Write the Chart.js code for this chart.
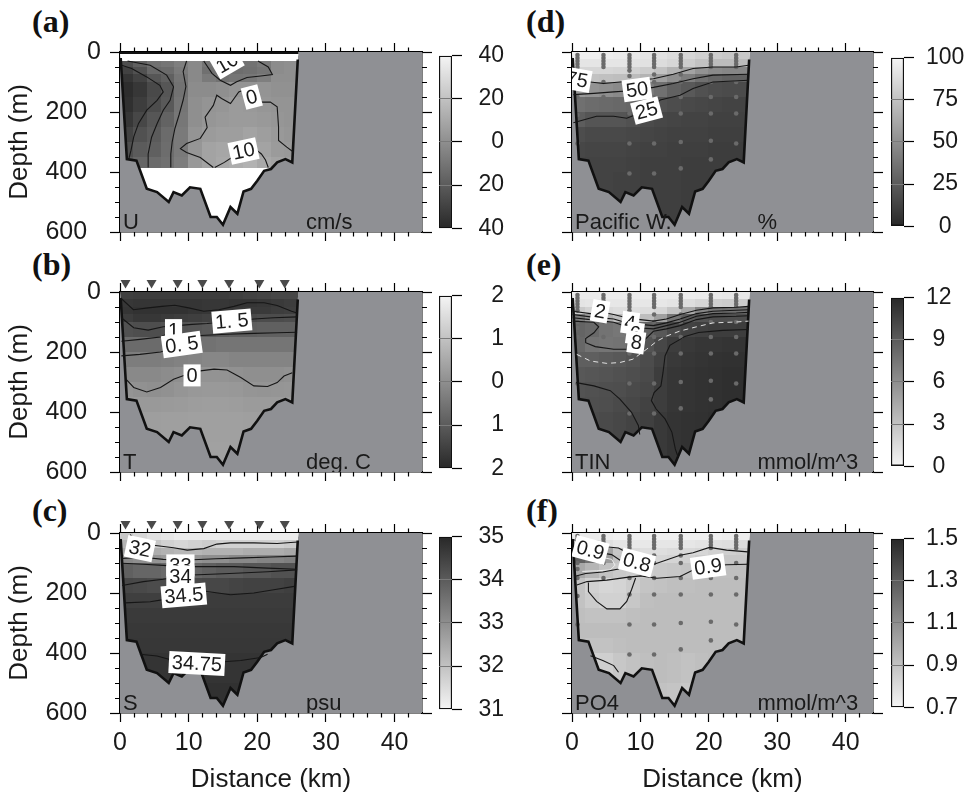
<!DOCTYPE html>
<html>
<head>
<meta charset="utf-8">
<script src="https://cdn.jsdelivr.net/npm/chart.js@4.4.1/dist/chart.umd.min.js"></script>
<style>
  body { margin: 0; background: #fff; width: 972px; height: 795px; position: relative; overflow: hidden; }
  canvas { position: absolute; }
  .tag { position: absolute; font: bold 32px "Liberation Serif", "Times New Roman", serif; line-height: 1; color: #111; }
</style>
</head>
<body>
<div class="tag" style="left:32px;top:5px">(a)</div>
<div class="tag" style="left:32px;top:248px">(b)</div>
<div class="tag" style="left:32px;top:494px">(c)</div>
<div class="tag" style="left:526px;top:5px">(d)</div>
<div class="tag" style="left:526px;top:248px">(e)</div>
<div class="tag" style="left:526px;top:494px">(f)</div>

<script>
// axes
const distTicks = [0, 10, 20, 30, 40];
const depthTicks = [0, 200, 400, 600];
const depthTickLabels = ['0', '200  ', '400  ', '600  '];

// grid cells: 2 km columns, depth rows
const colEdges = [0, 2, 4, 6, 8, 10, 12, 14, 16, 18, 20, 22, 24, 26];
const rowEdges = [0, 25, 50, 75, 100, 150, 200, 250, 300, 350, 400, 500, 600];
const uRowEdges = [30, 50, 75, 100, 150, 200, 250, 300, 350, 385];

// section outline (walls + bottom)
const bathyKm = [0.1, 1.0, 2.4, 3.9, 5.4, 7.1, 7.8, 9.0, 10.2, 11.7, 13.2, 14.1, 15.0, 16.1, 17.1, 18.0, 19.1, 20.0, 21.0, 22.0, 22.9, 24.1, 25.1, 25.9];
const bathyDepth = [20, 357, 362, 456, 467, 500, 467, 478, 451, 456, 550, 550, 576, 517, 539, 465, 456, 429, 396, 390, 368, 357, 368, 25];

// stations
const stationKm = [0.8, 4.6, 8.4, 12.0, 15.9, 20.3, 24.0];
const stationDepths = [
  [10, 20, 30, 40, 50, 62, 100, 120, 150, 210, 305],
  [10, 20, 30, 40, 50, 100, 150],
  [10, 20, 30, 40, 50, 62, 80, 100, 150, 205, 305, 405],
  [10, 20, 30, 40, 50, 75, 100, 150, 205, 305, 405],
  [10, 20, 30, 40, 50, 75, 100, 150, 205, 300, 388],
  [10, 20, 30, 40, 50, 100, 150, 205, 296, 358],
  [10, 20, 30, 40, 50, 100, 150, 205, 305]
];

// (a) U, cm/s
const uGrid = [
  [-25, -18, -12, -10, -6, -2, -10, -13, -12, -11, -8, -1, 0],
  [-30, -24, -15, -14, -8, -2, -12, -14, -13, -12, -10, -1, 0],
  [-35, -30, -22, -18, -10, -2, -8, -11, -10, -9, -6, 0, 0],
  [-38, -34, -27, -22, -11, -1, -1, 0, 2, 2, 2, 1, 1],
  [-37, -32, -26, -21, -10, 0, 2, 3, 5, 4, 3, 2, 2],
  [-34, -28, -22, -17, -9, 0, 3, 4, 5, 5, 4, 3, 2],
  [-30, -24, -20, -14, -8, 2, 5, 6, 6, 8, 6, 4, 3],
  [-25, -20, -18, -13, -8, 3, 8, 9, 10, 11, 8, 5, 4],
  [-20, -16, -14, -12, -7, 4, 8, 10, 12, 14, 10, 8, 6]
];
const uC1 = [[0.24, 44], [1.7, 55], [3.9, 83], [5.8, 111], [6.3, 133], [5.4, 161], [3.9, 194], [2.7, 238], [2.0, 283], [1.6, 328], [1.3, 355]];
const uC2 = [[1.1, 30], [4.4, 44], [6.8, 77], [7.8, 116], [7.3, 161], [6.3, 194], [5.4, 239], [4.6, 284], [4.1, 340], [4.1, 385]];
const uC3 = [[9.7, 30], [9.2, 65], [9.6, 115], [9.2, 160], [8.6, 210], [8.0, 255], [7.6, 300], [7.4, 340], [7.4, 385]];
const uC4 = [[12.2, 30], [13.4, 71], [14.6, 94], [16.1, 111], [17.0, 99], [18.5, 85], [20.5, 80], [22.2, 75], [21.6, 50], [20.1, 30]];
const uC5 = [[13.6, 385], [11.7, 352], [9.7, 335], [8.8, 322], [9.7, 305], [11.7, 288], [12.7, 252], [12.4, 217], [13.6, 178], [14.1, 144], [14.8, 155], [16.1, 172], [17.3, 133], [18.0, 127], [19.2, 150], [20.4, 167], [21.9, 167], [22.9, 183], [23.1, 250], [23.1, 295], [24.3, 317], [25.3, 334]];
const uC6 = [[13.8, 385], [15.2, 368], [16.4, 350], [18, 330], [19.6, 322], [20.6, 340], [21.2, 360], [21.6, 385]];
const uLabels = [[19.2, 150, '0', -15], [18, 330, '10', -12]];
const uHidden = [[15.6, 36, '10', -30]];

// (b) T, deg C
const tGrid = [
  [-1.55, -1.6, -1.6, -1.6, -1.6, -1.6, -1.6, -1.6, -1.55, -1.5, -1.45, -1.4, -1.4],
  [-1.7, -1.75, -1.75, -1.75, -1.75, -1.75, -1.7, -1.7, -1.75, -1.75, -1.7, -1.65, -1.6],
  [-1.75, -1.8, -1.8, -1.8, -1.8, -1.75, -1.7, -1.7, -1.7, -1.65, -1.65, -1.6, -1.55],
  [-1.6, -1.7, -1.7, -1.65, -1.6, -1.55, -1.5, -1.45, -1.4, -1.35, -1.3, -1.3, -1.25],
  [-1.2, -1.25, -1.25, -1.2, -1.15, -1.1, -1.05, -1.0, -0.95, -0.95, -0.9, -0.9, -0.9],
  [-0.7, -0.7, -0.7, -0.65, -0.6, -0.55, -0.55, -0.5, -0.5, -0.5, -0.5, -0.5, -0.5],
  [-0.35, -0.35, -0.35, -0.3, -0.25, -0.2, -0.15, -0.15, -0.2, -0.2, -0.2, -0.2, -0.2],
  [-0.1, -0.1, -0.1, -0.05, 0.0, 0.05, 0.08, 0.08, 0.05, 0.0, 0.0, 0.0, 0.05],
  [0.1, 0.05, 0.0, 0.05, 0.12, 0.18, 0.2, 0.2, 0.18, 0.12, 0.1, 0.12, 0.15],
  [0.25, 0.2, 0.2, 0.22, 0.25, 0.28, 0.3, 0.3, 0.28, 0.25, 0.25, 0.25, 0.25],
  [0.3, 0.3, 0.3, 0.32, 0.33, 0.34, 0.35, 0.35, 0.34, 0.32, 0.3, 0.3, 0.3],
  [0.32, 0.32, 0.32, 0.33, 0.34, 0.35, 0.36, 0.36, 0.35, 0.33, 0.32, 0.32, 0.32]
];
const tC1 = [[0.1, 20], [1.95, 59], [4.1, 53], [6.1, 48], [8.0, 44], [10, 53], [12.2, 64], [14.4, 59], [16.6, 48], [18.5, 36], [21, 36], [22.9, 45], [25, 64], [25.8, 70]];
const tC2 = [[0.2, 86], [2, 119], [4.1, 127], [6.3, 116], [8.3, 112], [10.5, 108], [12.7, 105], [14.6, 101], [16.3, 97], [19.5, 90], [22.4, 86], [25.8, 83]];
const tC3 = [[0.2, 164], [2.9, 158], [5.9, 150], [7.8, 130], [9.5, 142], [11.7, 145], [15.6, 141], [19.5, 138], [22.9, 136], [25.8, 134]];
const tC4 = [[0.2, 213], [2.9, 208], [5.9, 200], [8.3, 185], [9.5, 175]];
const tC5 = [[0.9, 291], [2, 318], [3.9, 333], [5.9, 318], [7.8, 291], [9.8, 274], [11.7, 263], [13.7, 257], [15.6, 260], [17.6, 285], [19.5, 313], [21.5, 315], [22.9, 302], [23.9, 280], [25.1, 269]];
const tLabels = [[16.3, 97, '1. 5', -5], [7.8, 127, '1', 0], [9, 175, '0. 5', -8], [10.5, 278, '0', 0]];

// (c) S, psu
const sGrid = [
  [31.9, 31.6, 31.4, 31.3, 31.2, 31.2, 31.2, 31.2, 31.2, 31.2, 31.2, 31.2, 31.2],
  [32.3, 32.1, 31.9, 31.7, 31.6, 31.7, 31.8, 31.7, 31.7, 31.7, 31.7, 31.7, 31.8],
  [32.6, 32.5, 32.4, 32.3, 32.2, 32.2, 32.3, 32.3, 32.3, 32.4, 32.4, 32.4, 32.5],
  [33.1, 33.0, 32.9, 32.8, 32.8, 32.9, 33.0, 33.0, 33.1, 33.1, 33.2, 33.2, 33.3],
  [33.9, 33.8, 33.8, 33.7, 33.7, 33.8, 33.9, 34.0, 34.0, 34.1, 34.1, 34.2, 34.2],
  [34.4, 34.35, 34.3, 34.3, 34.3, 34.35, 34.4, 34.4, 34.45, 34.5, 34.5, 34.5, 34.55],
  [34.55, 34.55, 34.55, 34.55, 34.55, 34.55, 34.6, 34.6, 34.6, 34.6, 34.6, 34.6, 34.6],
  [34.65, 34.65, 34.65, 34.65, 34.65, 34.65, 34.65, 34.65, 34.65, 34.65, 34.65, 34.65, 34.65],
  [34.68, 34.68, 34.68, 34.68, 34.68, 34.68, 34.68, 34.68, 34.68, 34.68, 34.68, 34.68, 34.68],
  [34.7, 34.7, 34.7, 34.7, 34.7, 34.7, 34.7, 34.7, 34.7, 34.7, 34.7, 34.7, 34.7],
  [34.76, 34.76, 34.76, 34.76, 34.76, 34.76, 34.76, 34.76, 34.76, 34.76, 34.76, 34.76, 34.76],
  [34.83, 34.83, 34.83, 34.83, 34.83, 34.83, 34.83, 34.83, 34.83, 34.83, 34.83, 34.83, 34.83]
];
const sC1 = [[1.5, 5], [2.3, 35], [3.5, 48], [4.9, 41], [7.8, 49], [9.8, 57], [12.2, 52], [14.1, 37], [16.1, 33], [19.5, 33], [22.9, 35], [25.9, 30]];
const sC2 = [[0.3, 85], [3.4, 81], [6.3, 88], [9.8, 90], [14, 86], [18, 83], [22, 80], [25.8, 77]];
const sC3 = [[0.3, 101], [3.4, 104], [6.3, 108], [8.8, 112], [10.5, 112], [16.6, 112], [21.5, 117], [25.8, 121]];
const sC4 = [[0.3, 175], [3.4, 162], [6.3, 154], [8.8, 145], [10.5, 140], [16, 135], [21.5, 129], [25.8, 123]];
const sC5 = [[0.7, 233], [4.4, 229], [6.3, 222], [9.3, 208], [10.5, 190], [12.7, 195], [16.1, 206], [19.5, 200], [22.4, 189], [25.4, 178]];
const sC6 = [[2.9, 404], [5.4, 410], [7.8, 425], [11.2, 437], [14.6, 430], [17.6, 425], [20.5, 415], [21.5, 404]];
const sLabels = [[2.9, 52, '32', 12], [8.8, 108, '33', 0], [8.8, 145, '34', 0], [9.3, 208, '34.5', -5], [11.2, 435, '34.75', 3]];

// (d) Pacific water, %
const pGrid = [
  [97, 97, 96, 95, 94, 92, 90, 88, 85, 82, 80, 78, 78],
  [92, 92, 92, 92, 91, 90, 88, 85, 80, 75, 72, 72, 72],
  [85, 85, 85, 84, 83, 80, 75, 68, 60, 52, 48, 46, 46],
  [76, 75, 74, 73, 72, 68, 58, 50, 42, 35, 30, 28, 28],
  [55, 52, 50, 48, 45, 40, 35, 28, 24, 20, 18, 17, 17],
  [35, 33, 32, 31, 30, 24, 20, 18, 16, 15, 14, 13, 13],
  [26, 22, 22, 22, 20, 17, 15, 14, 13, 13, 12, 12, 12],
  [18, 16, 16, 16, 15, 14, 13, 12, 12, 12, 11, 11, 11],
  [15, 14, 14, 14, 13, 12, 12, 11, 11, 11, 10, 10, 10],
  [14, 13, 13, 13, 12, 11, 11, 11, 10, 10, 10, 10, 10],
  [13, 13, 13, 12, 12, 11, 11, 11, 10, 10, 10, 10, 10],
  [13, 13, 13, 12, 12, 11, 11, 11, 10, 10, 10, 10, 10]
];
const pC75 = [[1.6, 100], [2.7, 100], [4.6, 105], [7.0, 100], [11.9, 89], [14.8, 74], [17.7, 55], [20.6, 50], [24.0, 50], [25.8, 44]];
const pC50 = [[0.2, 142], [3.2, 138], [6.1, 133], [8.0, 130], [9.5, 125], [11.9, 118], [14.8, 105], [17.7, 89], [20.6, 77], [25.8, 74]];
const pC25 = [[0.2, 236], [3.6, 214], [6.1, 214], [8.0, 221], [10.9, 195], [12.9, 160], [15.8, 144], [17.7, 122], [20.6, 100], [25.8, 94]];
const pLabels = [[0.7, 92, '75', 10], [9.5, 125, '50', -8], [10.9, 195, '25', -15]];

// (e) TIN, mmol/m^3
const nGrid = [
  [0.6, 0.6, 0.5, 0.5, 0.5, 0.5, 0.5, 0.5, 0.5, 0.6, 0.7, 0.8, 0.8],
  [1.0, 0.9, 0.8, 0.8, 0.8, 0.8, 0.8, 1.0, 1.4, 1.8, 2.2, 2.4, 2.4],
  [2.5, 2.0, 1.6, 1.4, 1.3, 1.4, 1.8, 2.8, 4.5, 6.5, 7.5, 7.8, 7.8],
  [7.0, 5.5, 4.0, 3.2, 2.8, 3.2, 5.0, 7.5, 9.0, 9.5, 9.8, 9.8, 9.8],
  [8.5, 8.2, 7.6, 7.4, 7.4, 8.6, 9.2, 10.0, 10.4, 10.6, 10.8, 10.8, 10.8],
  [8.3, 7.6, 7.5, 7.6, 8.2, 9.5, 10.2, 10.8, 11.0, 11.2, 11.2, 11.3, 11.3],
  [8.8, 8.8, 9.0, 9.2, 9.5, 9.9, 10.5, 11.0, 11.2, 11.3, 11.4, 11.5, 11.5],
  [9.2, 9.3, 9.4, 9.6, 9.8, 10.0, 10.8, 11.2, 11.3, 11.4, 11.5, 11.6, 11.6],
  [9.5, 9.6, 9.7, 9.8, 10.0, 10.2, 10.8, 11.2, 11.3, 11.4, 11.5, 11.6, 11.6],
  [9.6, 9.7, 9.8, 10.0, 10.2, 10.5, 10.8, 11.2, 11.3, 11.4, 11.5, 11.6, 11.6],
  [9.8, 9.9, 10.0, 10.2, 10.4, 10.6, 11.0, 11.3, 11.4, 11.5, 11.6, 11.6, 11.6],
  [9.8, 9.9, 10.0, 10.2, 10.4, 10.6, 11.0, 11.3, 11.4, 11.5, 11.6, 11.6, 11.6]
];
const nC2 = [[0.1, 64], [2.7, 72], [4.1, 66], [6.1, 75], [8, 86], [10, 92], [11.9, 97], [13.8, 90], [15.8, 75], [18.2, 61], [20.6, 53], [24, 51], [25.8, 48]];
const nC4 = [[0.1, 75], [2.7, 83], [6.1, 90], [8, 103], [10, 108], [11.9, 112], [13.8, 103], [15.8, 90], [18.2, 72], [20.6, 64], [24, 61], [25.8, 59]];
const nC6 = [[0.1, 86], [2.7, 92], [6.1, 101], [8, 116], [10, 120], [11.9, 123], [13.8, 112], [15.8, 101], [18.2, 81], [20.6, 72], [24, 70], [25.8, 68]];
const nC8 = [[0.1, 97], [3.2, 101], [3.9, 116], [3.2, 136], [2.0, 155], [2.0, 169], [3.4, 182], [6.1, 191], [8.3, 191], [9.5, 180], [10.7, 158], [11.9, 131], [13.8, 123], [15.8, 112], [18.2, 92], [20.6, 83], [24, 81], [25.8, 79]];
const nC10 = [[25.8, 125], [22, 128], [18.5, 135], [16.5, 148], [15.8, 158], [14.3, 178], [13.6, 213], [13.3, 269], [13.0, 313], [12, 335], [11.6, 362], [12.3, 390], [13.6, 423], [14.6, 467], [15.1, 523], [15.5, 550]];
const nC9 = [[0.6, 302], [3.2, 313], [5.6, 329], [7.0, 357], [8.7, 401], [9.7, 445], [9.9, 475]];
const nDash = [[0.7, 208], [2.7, 230], [5.1, 238], [7.0, 235], [8.9, 224], [10.9, 191], [12.4, 164], [13.8, 147], [15.8, 130], [18.2, 116], [20.6, 103], [24, 100], [25.8, 97]];
const nLabels = [[4.1, 64, '2', 10], [8.5, 103, '4', 8], [9.2, 138, '6', 8], [9.4, 168, '8', 8]];

// (f) PO4, mmol/m^3
const phGrid = [
  [0.74, 0.74, 0.73, 0.72, 0.72, 0.72, 0.72, 0.72, 0.72, 0.72, 0.72, 0.73, 0.73],
  [0.85, 0.82, 0.78, 0.76, 0.75, 0.75, 0.76, 0.76, 0.76, 0.77, 0.78, 0.79, 0.80],
  [1.22, 1.18, 1.02, 0.88, 0.80, 0.79, 0.79, 0.80, 0.81, 0.82, 0.84, 0.85, 0.86],
  [1.28, 1.22, 1.05, 0.90, 0.84, 0.82, 0.82, 0.83, 0.84, 0.86, 0.87, 0.88, 0.88],
  [1.0, 0.95, 0.90, 0.87, 0.86, 0.86, 0.87, 0.88, 0.89, 0.90, 0.91, 0.91, 0.91],
  [0.9, 0.84, 0.82, 0.83, 0.86, 0.89, 0.90, 0.91, 0.91, 0.92, 0.92, 0.92, 0.92],
  [0.9, 0.86, 0.84, 0.84, 0.88, 0.91, 0.92, 0.92, 0.92, 0.92, 0.92, 0.92, 0.92],
  [0.91, 0.9, 0.9, 0.9, 0.91, 0.92, 0.92, 0.92, 0.92, 0.92, 0.92, 0.92, 0.92],
  [0.92, 0.92, 0.92, 0.92, 0.92, 0.92, 0.92, 0.92, 0.92, 0.92, 0.92, 0.92, 0.92],
  [0.91, 0.9, 0.9, 0.91, 0.92, 0.92, 0.92, 0.92, 0.92, 0.92, 0.92, 0.92, 0.92],
  [0.86, 0.84, 0.85, 0.88, 0.9, 0.91, 0.92, 0.91, 0.9, 0.91, 0.92, 0.92, 0.92],
  [0.86, 0.86, 0.87, 0.88, 0.9, 0.9, 0.9, 0.89, 0.88, 0.9, 0.92, 0.92, 0.92]
];
const fC1 = [[0.3, 22], [1.2, 35], [2.7, 55], [4.5, 45], [6.8, 50], [7.6, 60], [9.5, 98], [12.1, 103], [13.8, 90], [15.8, 74], [17.7, 66], [20.1, 48], [22.6, 57], [25.7, 63]];
const fC2 = [[0.7, 173], [2.2, 162], [5.1, 157], [8.0, 148], [10.0, 143], [12.4, 151], [15.8, 145], [17.7, 123], [19.9, 112], [22.6, 106], [25.7, 104]];
const fC3 = [[2.4, 165], [2.4, 195], [3.6, 228], [5.1, 253], [7.0, 253], [8.0, 228], [8.7, 189], [9.3, 150]];
const fC4 = [[0.3, 60], [3.2, 62], [5.8, 72], [7.3, 95], [6.8, 120], [4.5, 130], [2, 135], [0.3, 145]];
const fC5 = [[2.7, 409], [4.5, 425], [6.1, 442], [6.8, 464]];
const fWhite = [[0.7, 74], [3.6, 77], [5.8, 88], [6.3, 107], [5.6, 123], [3.6, 126], [1.5, 128]];
const fLabels = [[2.7, 57, '0.9', 15], [9.5, 98, '0.8', 15], [19.9, 112, '0.9', -8]];

const BG = '#8f9094';
const LO = 40, HI = 245;
const rowTops = [52, 292, 533];
const AREA_H = 180;

const panels = [
  { id: 'pa', col: 0, row: 0, name: 'U', unit: 'cm/s', min: -40, max: 40, darkHigh: false,
    grid: uGrid, edges: uRowEdges, lines: [uC1, uC2, uC3, uC4, uC5, uC6], whiteLines: [],
    labels: uLabels, hidden: uHidden, band: 30, topLine: true, marks: null,
    cbTicks: [-40, -20, 0, 20, 40], cbLabels: ['40', '20', '0', '20', '40'] },
  { id: 'pb', col: 0, row: 1, name: 'T', unit: 'deg. C', min: -2, max: 2, darkHigh: false,
    grid: tGrid, edges: rowEdges, lines: [tC1, tC2, tC3, tC4, tC5], whiteLines: [],
    labels: tLabels, marks: 'tri',
    cbTicks: [-2, -1, 0, 1, 2], cbLabels: ['2', '1', '0', '1', '2'] },
  { id: 'pc', col: 0, row: 2, name: 'S', unit: 'psu', min: 31, max: 35, darkHigh: true,
    grid: sGrid, edges: rowEdges, lines: [sC1, sC2, sC3, sC4, sC5, sC6], whiteLines: [],
    labels: sLabels, marks: 'tri',
    cbTicks: [31, 32, 33, 34, 35], cbLabels: ['31', '32', '33', '34', '35'] },
  { id: 'pd', col: 1, row: 0, name: 'Pacific W.', unit: '%', min: 0, max: 100, darkHigh: false,
    grid: pGrid, edges: rowEdges, lines: [pC75, pC50, pC25], whiteLines: [],
    labels: pLabels, marks: 'dot',
    cbTicks: [0, 25, 50, 75, 100], cbLabels: ['0', '25', '50', '75', '100'] },
  { id: 'pe', col: 1, row: 1, name: 'TIN', unit: 'mmol/m^3', min: 0, max: 12, darkHigh: true,
    grid: nGrid, edges: rowEdges, lines: [nC2, nC4, nC6, nC8, nC10, nC9], whiteLines: [{ pts: nDash, dash: [5, 4] }],
    labels: nLabels, marks: 'dot',
    cbTicks: [0, 3, 6, 9, 12], cbLabels: ['0', '3', '6', '9', '12'] },
  { id: 'pf', col: 1, row: 2, name: 'PO4', unit: 'mmol/m^3', min: 0.7, max: 1.5, darkHigh: true,
    grid: phGrid, edges: rowEdges, lines: [fC1, fC2, fC3, fC4, fC5], whiteLines: [{ pts: fWhite, dash: [] }],
    labels: fLabels, marks: 'dot',
    cbTicks: [0.7, 0.9, 1.1, 1.3, 1.5], cbLabels: ['0.7', '0.9', '1.1', '1.3', '1.5'] }
];

const specs = {};
const FONT = '"Liberation Sans", Arial, sans-serif';
Chart.defaults.font.family = FONT;
Chart.defaults.color = '#1a1a1a';
Chart.defaults.animation = false;

function grayFor(v, p) {
  let t = (v - p.min) / (p.max - p.min);
  t = Math.max(0, Math.min(1, t));
  const g = Math.round(p.darkHigh ? HI - (HI - LO) * t : LO + (HI - LO) * t);
  return `rgb(${g},${g},${g})`;
}

const toXY = pts => pts.map(([x, y]) => ({ x, y }));

function sectionPath(ctx, xs, ys) {
  ctx.beginPath();
  ctx.moveTo(xs.getPixelForValue(0), ys.getPixelForValue(0));
  bathyKm.forEach((k, i) => ctx.lineTo(xs.getPixelForValue(k), ys.getPixelForValue(bathyDepth[i])));
  ctx.lineTo(xs.getPixelForValue(26), ys.getPixelForValue(0));
  ctx.closePath();
}

function drawLabel(ctx, xs, ys, lab) {
  const [km, d, text, rot] = lab;
  ctx.save();
  ctx.translate(xs.getPixelForValue(km), ys.getPixelForValue(d));
  ctx.rotate(rot * Math.PI / 180);
  ctx.font = '20px ' + FONT;
  const w = ctx.measureText(text).width + 6, h = 22;
  ctx.fillStyle = '#fff';
  ctx.fillRect(-w / 2, -h / 2, w, h);
  ctx.fillStyle = '#1a1a1a';
  ctx.textAlign = 'center';
  ctx.textBaseline = 'middle';
  ctx.fillText(text, 0, 1);
  ctx.restore();
}

const sectionPlugin = {
  id: 'section',
  beforeDatasetsDraw(chart) {
    const p = specs[chart.canvas.id];
    const { ctx, chartArea: a } = chart;
    const xs = chart.scales.x, ys = chart.scales.y;
    ctx.save();
    ctx.fillStyle = BG;
    ctx.fillRect(a.left, a.top, a.width, a.height);
    ctx.beginPath();
    ctx.rect(a.left, a.top, a.width, a.height);
    ctx.clip();
    sectionPath(ctx, xs, ys);
    ctx.clip();
    ctx.fillStyle = '#fff';
    ctx.fillRect(a.left, a.top, a.width, a.height);
    p.grid.forEach((row, j) => row.forEach((v, i) => {
      const x0 = Math.floor(xs.getPixelForValue(colEdges[i]));
      const x1 = Math.ceil(xs.getPixelForValue(colEdges[i + 1]));
      const y0 = Math.floor(ys.getPixelForValue(p.edges[j]));
      const y1 = Math.ceil(ys.getPixelForValue(p.edges[j + 1]));
      ctx.fillStyle = grayFor(v, p);
      ctx.fillRect(x0, y0, x1 - x0, y1 - y0);
    }));
    (p.hidden || []).forEach(l => drawLabel(ctx, xs, ys, l));
    if (p.band) {
      ctx.fillStyle = '#fff';
      ctx.fillRect(a.left, a.top, a.width, ys.getPixelForValue(p.band) - a.top);
    }
    ctx.restore();
  },
  afterDatasetsDraw(chart) {
    const p = specs[chart.canvas.id];
    const { ctx, chartArea: a } = chart;
    const xs = chart.scales.x, ys = chart.scales.y;
    ctx.save();
    ctx.beginPath();
    ctx.rect(a.left, a.top, a.width, a.height);
    ctx.clip();
    p.labels.forEach(l => drawLabel(ctx, xs, ys, l));
    ctx.font = '22px ' + FONT;
    ctx.fillStyle = '#1a1a1a';
    ctx.textBaseline = 'alphabetic';
    ctx.textAlign = 'left';
    ctx.fillText(p.name, a.left + 3, a.bottom - 3);
    ctx.fillText(p.unit, xs.getPixelForValue(27.1), a.bottom - 3);
    ctx.restore();
  },
  afterDraw(chart) {
    const p = specs[chart.canvas.id];
    const { ctx, chartArea: a } = chart;
    const xs = chart.scales.x, ys = chart.scales.y;
    ctx.save();
    ctx.strokeStyle = '#000';
    ctx.lineWidth = 1.2;
    ctx.beginPath();
    for (let k = 2; k < 44; k += 2) {
      if (k % 10 === 0) continue;
      const px = Math.round(xs.getPixelForValue(k)) + 0.5;
      ctx.moveTo(px, a.bottom); ctx.lineTo(px, a.bottom + 4.5);
      ctx.moveTo(px, a.top); ctx.lineTo(px, a.top - 4.5);
    }
    for (let d = 50; d < 600; d += 50) {
      if (d % 200 === 0) continue;
      const py = Math.round(ys.getPixelForValue(d)) + 0.5;
      ctx.moveTo(a.left, py); ctx.lineTo(a.left - 5, py);
      ctx.moveTo(a.right, py); ctx.lineTo(a.right + 5, py);
    }
    ctx.stroke();
    if (p.marks === 'tri') {
      ctx.fillStyle = '#4a4a4a';
      stationKm.forEach(k => {
        const px = xs.getPixelForValue(k);
        const yTop = ys.getPixelForValue(-40), yTip = ys.getPixelForValue(-12);
        ctx.beginPath();
        ctx.moveTo(px - 5, yTop); ctx.lineTo(px + 5, yTop); ctx.lineTo(px, yTip);
        ctx.closePath();
        ctx.fill();
      });
    }
    ctx.restore();
  }
};

function makePanel(p) {
  specs[p.id] = p;
  const left = p.col === 0 ? 0 : 540;
  const width = p.col === 0 ? 440 : 350;
  const areaLeft = p.col === 0 ? 120 : 572;
  const areaRight = p.col === 0 ? 422 : 873;
  const areaTop = rowTops[p.row];
  const areaBottom = areaTop + AREA_H;
  const top = areaTop - 30;
  const bottom = p.row === 2 ? 795 : areaBottom + 30;

  const cv = document.createElement('canvas');
  cv.id = p.id;
  cv.width = width; cv.height = bottom - top;
  cv.style.left = left + 'px'; cv.style.top = top + 'px';
  document.body.appendChild(cv);

  const datasets = [];
  p.lines.forEach(l => datasets.push({ data: toXY(l), showLine: true, pointRadius: 0, borderColor: '#161616', borderWidth: 1.1, fill: false }));
  p.whiteLines.forEach(l => datasets.push({ data: toXY(l.pts), showLine: true, pointRadius: 0, borderColor: 'rgba(240,240,240,0.9)', borderWidth: 1, borderDash: l.dash, fill: false }));
  datasets.push({ data: bathyKm.map((k, i) => ({ x: k, y: bathyDepth[i] })), showLine: true, pointRadius: 0, borderColor: '#111', borderWidth: 2.6, fill: false });
  if (p.topLine) datasets.push({ data: [{ x: 0, y: 0 }, { x: 26, y: 0 }], showLine: true, pointRadius: 0, borderColor: '#111', borderWidth: 4, fill: false });
  if (p.marks === 'dot') {
    const pts = [];
    stationKm.forEach((k, i) => stationDepths[i].forEach(d => pts.push({ x: k, y: d })));
    datasets.push({ data: pts, showLine: false, pointRadius: 2.3, pointBackgroundColor: '#6a6a6a', pointBorderWidth: 0 });
  }

  const tickSet = vals => s => { s.ticks = vals.map(v => ({ value: v })); };
  const axisGrid = len => ({ drawOnChartArea: false, tickLength: len, tickColor: '#000', tickWidth: 1.2 });
  const border = { display: true, color: '#000', width: 1.5 };

  new Chart(cv, {
    type: 'scatter',
    data: { datasets },
    options: {
      responsive: false, animation: false, events: [],
      layout: { padding: 0, autoPadding: false },
      plugins: { legend: { display: false }, tooltip: { enabled: false } },
      scales: {
        x: {
          type: 'linear', position: 'bottom', min: 0, max: 44,
          afterBuildTicks: tickSet(distTicks),
          ticks: { display: p.row === 2, font: { size: 25 }, padding: 6, maxRotation: 0, autoSkip: false },
          grid: axisGrid(9), border,
          title: { display: p.row === 2, text: 'Distance (km)', font: { size: 26 }, padding: 0 },
          afterFit: s => { s.height = bottom - areaBottom; }
        },
        x2: {
          type: 'linear', axis: 'x', position: 'top', min: 0, max: 44,
          afterBuildTicks: tickSet(distTicks),
          ticks: { display: false }, grid: axisGrid(9), border,
          afterFit: s => { s.height = areaTop - top; }
        },
        y: {
          type: 'linear', position: 'left', reverse: true, min: 0, max: 600,
          afterBuildTicks: tickSet(depthTicks),
          ticks: { display: p.col === 0, font: { size: 25 }, padding: 9, autoSkip: false, callback: (v, i) => depthTickLabels[i] },
          grid: axisGrid(10), border,
          title: { display: p.col === 0, text: 'Depth (m)', font: { size: 26 } },
          afterFit: s => { s.width = areaLeft - left; }
        },
        y2: {
          type: 'linear', axis: 'y', position: 'right', reverse: true, min: 0, max: 600,
          afterBuildTicks: tickSet(depthTicks),
          ticks: { display: false }, grid: axisGrid(10), border,
          afterFit: s => { s.width = left + width - areaRight; }
        }
      }
    },
    plugins: [sectionPlugin]
  });
}

function makeColorbar(p) {
  const barLeft = p.col === 0 ? 439 : 891;
  const barW = 13;
  const axisW = p.col === 0 ? 504 - (barLeft + barW) : 972 - (barLeft + barW);
  const areaTop = rowTops[p.row];
  const cv = document.createElement('canvas');
  cv.width = barW + axisW; cv.height = AREA_H + 40;
  cv.style.left = barLeft + 'px'; cv.style.top = (areaTop - 20) + 'px';
  document.body.appendChild(cv);

  new Chart(cv, {
    type: 'bar',
    data: {
      labels: [p.name],
      datasets: [{
        data: [[p.min, p.max]],
        backgroundColor: c => {
          const a = c.chart.chartArea;
          if (!a) return '#888';
          const g = c.chart.ctx.createLinearGradient(0, a.bottom, 0, a.top);
          g.addColorStop(0, grayFor(p.min, p));
          g.addColorStop(1, grayFor(p.max, p));
          return g;
        },
        borderColor: '#111', borderWidth: 1.5, borderSkipped: false,
        barPercentage: 1, categoryPercentage: 1
      }]
    },
    options: {
      responsive: false, animation: false, events: [],
      layout: { padding: { top: 20, bottom: 20, left: 0, right: 0 }, autoPadding: false },
      plugins: { legend: { display: false }, tooltip: { enabled: false } },
      scales: {
        x: { display: false },
        y: {
          position: 'right', min: p.min, max: p.max,
          afterBuildTicks: s => { s.ticks = p.cbTicks.map(v => ({ value: v })); },
          ticks: {
            font: { size: 23 }, autoSkip: false,
            padding: p.col === 0 ? 10 : 12,
            crossAlign: p.col === 0 ? 'far' : 'center',
            callback: (v, i) => p.cbLabels[i]
          },
          grid: {
            z: 1, tickLength: 10, tickColor: '#000', tickWidth: 1.2, lineWidth: 1,
            color: c => (c.tick && (c.tick.value === p.min || c.tick.value === p.max)) ? 'rgba(0,0,0,0)' : '#7a7a7a'
          },
          border: { display: false },
          afterFit: s => { s.width = axisW; }
        }
      }
    }
  });
}

panels.forEach(p => { makePanel(p); makeColorbar(p); });
</script>
</body>
</html>
